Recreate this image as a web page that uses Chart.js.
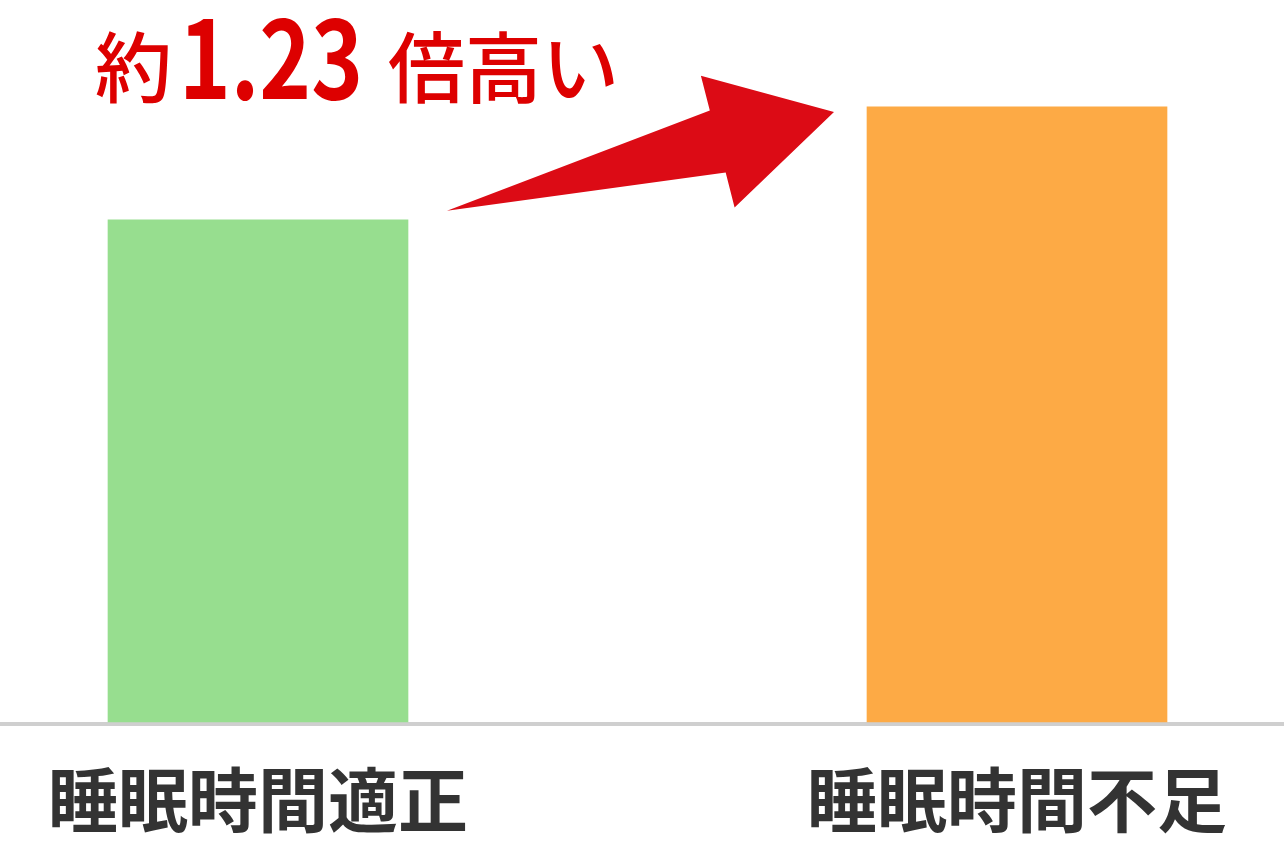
<!DOCTYPE html>
<html lang="ja">
<head>
<meta charset="utf-8">
<title>睡眠時間と比率</title>
<script src="https://cdn.jsdelivr.net/npm/chart.js@4"></script>
<style>
  html, body { margin: 0; padding: 0; background: #ffffff; }
  #wrap { width: 1284px; height: 850px; position: relative; }
</style>
</head>
<body>
<div id="wrap"><canvas id="chart"></canvas></div>
<script>
// Data
const categories = ["睡眠時間適正", "睡眠時間不足"];
const values = [100, 122.5];
const barColors = ["#97de8f", "#fdaa45"];
const headline = { prefix: "約", number: "1.23", suffix: "倍高い" };

const JP_FONT = '"Noto Sans CJK JP", "Noto Sans", sans-serif';

// Full-width grey baseline at the value zero
const baselinePlugin = {
  id: "baseline",
  beforeDatasetsDraw(chart) {
    const { ctx, scales } = chart;
    const y = scales.y.getPixelForValue(0);
    ctx.save();
    ctx.fillStyle = "#cfcfcf";
    ctx.fillRect(0, y, chart.width, 4);
    ctx.restore();
  },
};

// Category labels under each bar
const labelPlugin = {
  id: "catLabels",
  afterDraw(chart) {
    const { ctx, scales } = chart;
    ctx.save();
    ctx.fillStyle = "#333333";
    ctx.font = `bold 70px ${JP_FONT}`;
    ctx.textAlign = "center";
    ctx.textBaseline = "middle";
    categories.forEach((label, i) => {
      ctx.fillText(label, scales.x.getPixelForValue(i), 800);
    });
    ctx.restore();
  },
};

// Red arrow from the first bar top towards the second, plus headline text
const arrowPlugin = {
  id: "arrow",
  afterDatasetsDraw(chart) {
    const { ctx } = chart;
    const bars = chart.getDatasetMeta(0).data;
    if (bars.length < 2) return;
    const a = bars[0], b = bars[1];
    const tail = { x: a.x + a.width / 2 + 39, y: a.y - 9 };
    const tip = { x: b.x - b.width / 2 - 33, y: b.y + 5 };
    const dx = tip.x - tail.x, dy = tip.y - tail.y;
    const len = Math.hypot(dx, dy);
    const ux = dx / len, uy = dy / len;
    const vx = uy, vy = -ux;
    const headLen = 120, shaftHalf = 32, headHalf = 68;
    const pt = (along, perp) => [tail.x + ux * along + vx * perp, tail.y + uy * along + vy * perp];
    const base = len - headLen;
    const pts = [
      pt(0, 0),
      pt(base, shaftHalf),
      pt(base, headHalf),
      pt(len, 0),
      pt(base, -headHalf),
      pt(base, -shaftHalf),
    ];
    ctx.save();
    ctx.fillStyle = "#dc0b15";
    ctx.beginPath();
    pts.forEach(([x, y], i) => (i ? ctx.lineTo(x, y) : ctx.moveTo(x, y)));
    ctx.closePath();
    ctx.fill();

    // headline: 約 1.23 倍高い
    ctx.fillStyle = "#dd0000";
    ctx.textAlign = "left";
    ctx.font = `500 77px ${JP_FONT}`;
    ctx.textBaseline = "middle";
    ctx.fillText(headline.prefix, 95, 68);

    ctx.font = `bold 108px ${JP_FONT}`;
    ctx.textBaseline = "alphabetic";
    const numW = ctx.measureText(headline.number).width;
    const targetW = 184;
    ctx.save();
    ctx.translate(179, 99);
    ctx.scale(targetW / numW, 1);
    ctx.fillText(headline.number, 0, 0);
    ctx.restore();

    ctx.font = `500 77px ${JP_FONT}`;
    ctx.textBaseline = "middle";
    ctx.fillText(headline.suffix, 388, 68);
    ctx.restore();
  },
};

new Chart(document.getElementById("chart"), {
  type: "bar",
  data: {
    labels: categories,
    datasets: [{
      data: values,
      backgroundColor: barColors,
      borderWidth: 0,
      barThickness: 300,
      clip: false,
    }],
  },
  options: {
    responsive: true,
    maintainAspectRatio: false,
    animation: false,
    layout: { padding: { left: 258, right: 267, top: 19, bottom: 128 } },
    plugins: { legend: { display: false }, tooltip: { enabled: false } },
    scales: {
      x: { type: "category", offset: false, display: false },
      y: { min: 0, max: 140, display: false },
    },
  },
  plugins: [baselinePlugin, arrowPlugin, labelPlugin],
});
</script>
</body>
</html>
